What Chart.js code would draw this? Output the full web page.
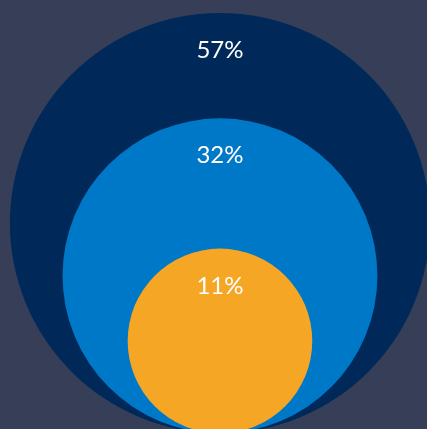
<!DOCTYPE html>
<html lang="en">
<head>
    <meta charset="UTF-8" />
    <title>Nested shares</title>
    <script src="https://cdn.jsdelivr.net/npm/chart.js"></script>
    <style>
        * { box-sizing: border-box; margin: 0; padding: 0; }
        body { background: #363f57; width: 427px; height: 429px; overflow: hidden; }
        .wrap { position: relative; width: 427px; height: 429px; }
    </style>
</head>
<body>
    <div class="wrap"><canvas id="circles"></canvas></div>

    <script>
        // shares, biggest first (area of each circle is proportional to its share)
        const shares = [57, 32, 11];
        const shareLabels = ['57%', '32%', '11%'];
        const colors = ['#00295a', '#0078c8', '#f5a624'];

        const maxShare = Math.max(...shares);
        // radius in "big circle" units; circles sit on the baseline y = 0
        const rel = shares.map(v => Math.sqrt(v / maxShare));

        // pixels per y unit, measured from the y scale once it is laid out
        let unitPx = 0;
        const unitPlugin = {
            id: 'unitPx',
            afterLayout(chart) {
                const y = chart.scales.y;
                const d = y.getPixelForValue(0) - y.getPixelForValue(1);
                unitPx = isFinite(d) ? d : 0;
            }
        };

        const labelPlugin = {
            id: 'circleLabels',
            afterDatasetsDraw(chart) {
                const { ctx } = chart;
                const meta = chart.getDatasetMeta(0);
                ctx.save();
                ctx.fillStyle = '#ffffff';
                ctx.font = '24px Lato';
                ctx.textAlign = 'center';
                ctx.textBaseline = 'alphabetic';
                meta.data.forEach((pt, i) => {
                    const r = rel[i] * unitPx;
                    ctx.fillText(shareLabels[i], pt.x, pt.y - r + 45);
                });
                ctx.restore();
            }
        };

        const circleRadius = ctx => rel[ctx.dataIndex] * unitPx;

        new Chart(document.getElementById('circles'), {
            type: 'scatter',
            data: {
                labels: shareLabels,
                datasets: [{
                    data: rel.map(r => ({ x: 0, y: r })),
                    pointBackgroundColor: colors,
                    pointHoverBackgroundColor: colors,
                    pointBorderWidth: 0,
                    pointHoverBorderWidth: 0,
                    pointRadius: circleRadius,
                    pointHoverRadius: circleRadius,
                    showLine: false,
                    clip: false
                }]
            },
            options: {
                responsive: true,
                maintainAspectRatio: false,
                animation: false,
                events: [],
                layout: { autoPadding: false, padding: { left: 10, right: 0, top: 13, bottom: 0 } },
                plugins: { legend: { display: false }, tooltip: { enabled: false } },
                scales: {
                    x: { display: false, min: -1, max: 0.986 },
                    // baseline (0) sits a few px under the bottom edge
                    y: { display: false, min: 0.02, max: 2.0 }
                }
            },
            plugins: [unitPlugin, labelPlugin]
        });
    </script>
</body>
</html>
